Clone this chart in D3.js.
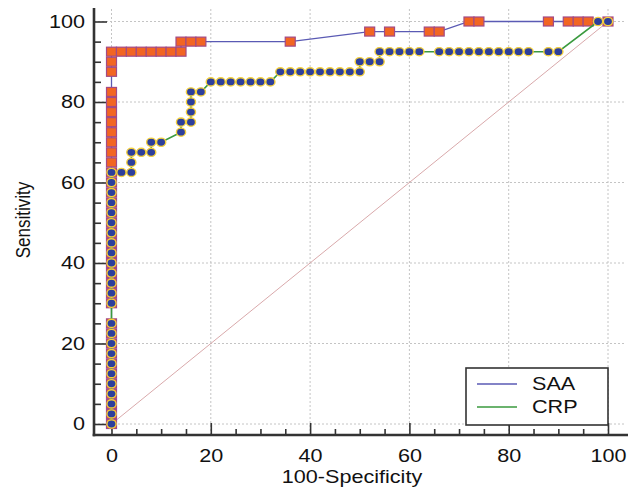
<!DOCTYPE html>
<html><head><meta charset="utf-8">
<script src="https://cdn.jsdelivr.net/npm/d3@7"></script>
<style>html,body{margin:0;padding:0;background:#fff;}svg{display:block;}</style>
</head><body>
<svg id="c" width="641" height="495"></svg>
<script>
// ---- data ----
const seriesNames = ["SAA", "CRP"];
const saaFPR = [0,0,0,0,0,0,0,0,0,0,0,
  0,0,0,0,0,0,0,0,0,0,0,0,0,0,0,0,0,0,0,0,0,0,
  0,0,0,
  2,4,6,8,10,12,14,14,16,18,36,52,56,64,66,72,74,88,92,94,96,100];
const saaTPR = [0,2.5,5,7.5,10,12.5,15,17.5,20,22.5,25,
  30,32.5,35,37.5,40,42.5,45,47.5,50,52.5,55,57.5,60,62.5,65,67.5,70,72.5,75,77.5,80,82.5,
  87.5,90,92.5,
  92.5,92.5,92.5,92.5,92.5,92.5,92.5,95,95,95,95,97.5,97.5,97.5,97.5,100,100,100,100,100,100,100];
const crpFPR = [0,0,0,0,0,0,0,0,0,0,0,
  0,0,0,0,0,0,0,0,0,0,0,0,0,0,
  2,4,4,4,6,8,8,10,14,14,16,16,16,16,18,20,22,24,26,28,30,32,
  34,36,38,40,42,44,46,48,50,50,52,54,54,56,58,60,62,66,68,70,72,74,76,78,80,82,84,88,90,98,100];
const crpTPR = [0,2.5,5,7.5,10,12.5,15,17.5,20,22.5,25,
  30,32.5,35,37.5,40,42.5,45,47.5,50,52.5,55,57.5,60,62.5,
  62.5,62.5,65,67.5,67.5,67.5,70,70,72.5,75,75,77.5,80,82.5,82.5,85,85,85,85,85,85,85,
  87.5,87.5,87.5,87.5,87.5,87.5,87.5,87.5,87.5,90,90,90,92.5,92.5,92.5,92.5,92.5,92.5,92.5,92.5,92.5,92.5,92.5,92.5,92.5,92.5,92.5,92.5,92.5,100,100];
const majorTicks = [0,20,40,60,80,100];
const minorTicks = [5,10,15,25,30,35,45,50,55,65,70,75,85,90,95];
const xTitle = "100-Specificity";
const yTitle = "Sensitivity";

// ---- layout ----
const svg = d3.select("#c");
const FONT = "'Liberation Sans', Arial, sans-serif";
const SX = 1.2;
const x = d3.scaleLinear().domain([0,100]).range([111.5,608]);
const y = d3.scaleLinear().domain([0,100]).range([424,21.5]);
const axX = 94, axY = 435;

// grid
const grid = svg.append("g").attr("stroke","#c4c4c4").attr("stroke-width",1).attr("stroke-dasharray","2,2");
majorTicks.forEach(v=>{
  grid.append("line").attr("x1",x(v)).attr("x2",x(v)).attr("y1",9).attr("y2",axY);
  grid.append("line").attr("x1",axX).attr("x2",624).attr("y1",y(v)).attr("y2",y(v));
});

// axes
function styleAxis(g){
  g.select(".domain").remove();
  g.selectAll(".tick line").attr("stroke","#333").attr("stroke-width",1.6);
}
const gxMinor = svg.append("g").attr("transform",`translate(0,${axY})`)
  .call(d3.axisBottom(x).tickValues(minorTicks).tickSize(-6).tickFormat(""));
styleAxis(gxMinor);
const gxMajor = svg.append("g").attr("transform",`translate(0,${axY})`)
  .call(d3.axisBottom(x).tickValues(majorTicks).tickSize(-12).tickPadding(14));
styleAxis(gxMajor);
gxMajor.selectAll("text").attr("font-family",FONT).attr("font-size",18).attr("fill","#111")
  .attr("transform",`scale(${SX},1)`).attr("x",0);

const gyMinor = svg.append("g").attr("transform",`translate(${axX},0)`)
  .call(d3.axisLeft(y).tickValues(minorTicks).tickSize(-7).tickFormat(""));
styleAxis(gyMinor);
const gyMajor = svg.append("g").attr("transform",`translate(${axX},0)`)
  .call(d3.axisLeft(y).tickValues(majorTicks).tickSize(-13).tickPadding(9));
styleAxis(gyMajor);
gyMajor.selectAll("text").attr("font-family",FONT).attr("font-size",18).attr("fill","#111")
  .attr("x",-9/SX).attr("transform",`scale(${SX},1)`);

svg.append("line").attr("x1",axX).attr("x2",axX).attr("y1",8).attr("y2",axY+1.3)
  .attr("stroke","#333").attr("stroke-width",2.6);
svg.append("line").attr("x1",axX-1.3).attr("x2",628).attr("y1",axY).attr("y2",axY)
  .attr("stroke","#333").attr("stroke-width",2.6);

// titles
svg.append("text").text(xTitle).attr("font-family",FONT).attr("font-size",18).attr("fill","#111")
  .attr("text-anchor","middle").attr("transform",`translate(352,483) scale(${SX},1)`);
svg.append("text").text(yTitle).attr("font-family",FONT).attr("font-size",17).attr("fill","#111")
  .attr("text-anchor","middle").attr("transform",`translate(30,220) rotate(-90) scale(1,${SX})`);

// diagonal
svg.append("line").attr("x1",x(0)).attr("y1",y(0)).attr("x2",x(100)).attr("y2",y(100))
  .attr("stroke","#d9a9ab").attr("stroke-width",1);

const saa = saaFPR.map((v,i)=>[v,saaTPR[i]]);
const crp = crpFPR.map((v,i)=>[v,crpTPR[i]]);
const line = d3.line().x(d=>x(d[0])).y(d=>y(d[1]));

svg.append("path").datum(saa).attr("d",line).attr("fill","none")
  .attr("stroke","#5a5ab4").attr("stroke-width",1.3);
svg.append("g").selectAll("rect").data(saa).join("rect")
  .attr("x",d=>x(d[0])-5).attr("y",d=>y(d[1])-4.5).attr("width",10).attr("height",9)
  .attr("fill","#f26522").attr("stroke","#a24a86").attr("stroke-width",1.2);

svg.append("path").datum(crp).attr("d",line).attr("fill","none")
  .attr("stroke","#3a9a3e").attr("stroke-width",1.6);
svg.append("g").selectAll("ellipse").data(crp).join("ellipse")
  .attr("cx",d=>x(d[0])).attr("cy",d=>y(d[1])).attr("rx",4.6).attr("ry",4.1)
  .attr("fill","#2d3f9c").attr("stroke","#f3cf3c").attr("stroke-width",1.4);

// legend
const lg = svg.append("g");
lg.append("rect").attr("x",466).attr("y",368).attr("width",142).attr("height",57)
  .attr("fill","#fff").attr("stroke","#333").attr("stroke-width",1.6);
const legColors = ["#5a5ab4","#3a9a3e"];
seriesNames.forEach((n,i)=>{
  const ly = 384 + i*23;
  lg.append("line").attr("x1",477).attr("x2",517).attr("y1",ly).attr("y2",ly)
    .attr("stroke",legColors[i]).attr("stroke-width",1.3);
  lg.append("text").text(n).attr("font-family",FONT).attr("font-size",18).attr("fill","#111")
    .attr("dy","0.35em").attr("transform",`translate(532,${ly}) scale(${SX},1)`);
});
</script>
</body></html>
